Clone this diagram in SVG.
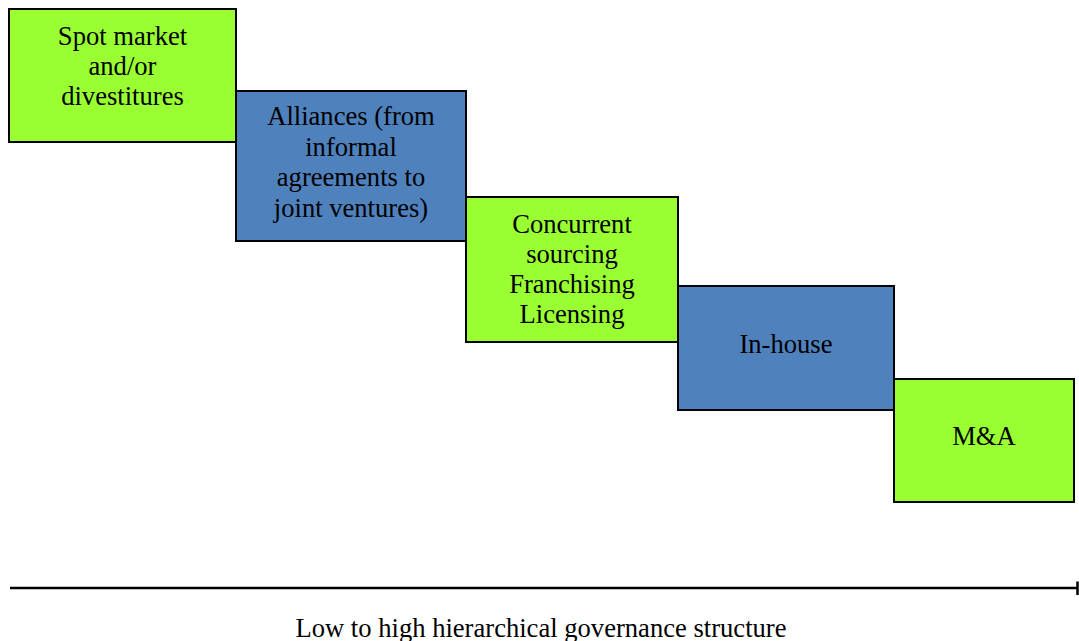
<svg xmlns="http://www.w3.org/2000/svg" width="1079" height="641" viewBox="0 0 1079 641">
<style>
.g{fill:#99ff33;stroke:#000;stroke-width:2}
.b{fill:#4f81bd;stroke:#000;stroke-width:2}
text{font-family:"Liberation Serif","Times New Roman",serif;font-size:26.6px;fill:#000;text-anchor:middle}
.ax{stroke:#000;stroke-width:2.5;fill:none}
</style>
<rect width="1079" height="641" fill="#fff"/>
<g id="n1"><rect class="g" x="9" y="9" width="227" height="133"/>
<text x="122.5" y="45">Spot market</text><text x="122.5" y="75">and/or</text><text x="122.5" y="105">divestitures</text></g>
<g id="n2"><rect class="b" x="236" y="91" width="230" height="150"/>
<text x="351" y="125">Alliances (from</text><text x="351" y="156">informal</text><text x="351" y="186">agreements to</text><text x="351" y="217">joint ventures)</text></g>
<g id="n3"><rect class="g" x="466" y="197" width="212" height="145"/>
<text x="572" y="233">Concurrent</text><text x="572" y="263">sourcing</text><text x="572" y="293">Franchising</text><text x="572" y="323">Licensing</text></g>
<g id="n4"><rect class="b" x="678" y="286" width="216" height="124"/>
<text x="786" y="353">In-house</text></g>
<g id="n5"><rect class="g" x="894" y="379" width="180" height="123"/>
<text x="984" y="445">M&amp;A</text></g>
<g id="connectors">
<line class="ax" x1="10" y1="588" x2="1077" y2="588"/>
<line class="ax" x1="1077.5" y1="581.5" x2="1077.5" y2="595"/>
</g>
<text x="541" y="637">Low to high hierarchical governance structure</text>
</svg>
